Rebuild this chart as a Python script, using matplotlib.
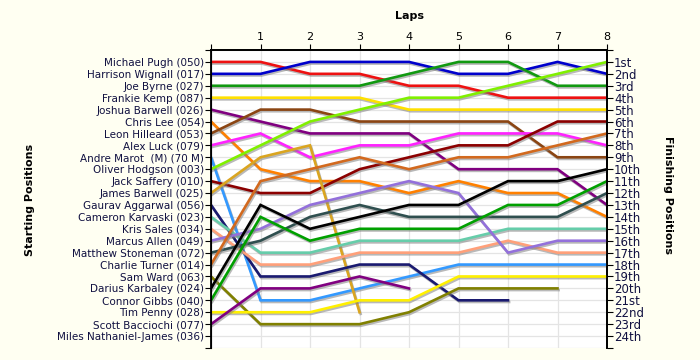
import matplotlib
matplotlib.use("Agg")
import matplotlib.pyplot as plt
import matplotlib.patheffects as pe
import numpy as np

laps = [0, 1, 2, 3, 4, 5, 6, 7, 8]
drivers = [
    "Michael Pugh (050)", "Harrison Wignall (017)", "Joe Byrne (027)", "Frankie Kemp (087)",
    "Joshua Barwell (026)", "Chris Lee (054)", "Leon Hilleard (053)", "Alex Luck (079)",
    "Andre Marot  (M) (70 M)", "Oliver Hodgson (003)", "Jack Saffery (010)", "James Barwell (025)",
    "Gaurav Aggarwal (056)", "Cameron Karvaski (023)", "Kris Sales (034)", "Marcus Allen (049)",
    "Matthew Stoneman (072)", "Charlie Turner (014)", "Sam Ward (063)", "Darius Karbaley (024)",
    "Connor Gibbs (040)", "Tim Penny (028)", "Scott Bacciochi (077)", "Miles Nathaniel-James (036)",
]
finish_labels = ["1st", "2nd", "3rd", "4th", "5th", "6th", "7th", "8th", "9th", "10th", "11th",
                 "12th", "13th", "14th", "15th", "16th", "17th", "18th", "19th", "20th", "21st",
                 "22nd", "23rd", "24th"]

michael_pugh = [1, 1, 2, 2, 3, 3, 4, 4, 4]
harrison_wignall = [2, 2, 1, 1, 1, 2, 2, 1, 2]
joe_byrne = [3, 3, 3, 3, 2, 1, 1, 3, 3]
frankie_kemp = [4, 4, 4, 4, 5, 5, 5, 5, 5]
joshua_barwell = [5, 6, 7, 7, 7, 10, 10, 10, 13]
chris_lee = [6, 10, 11, 11, 12, 11, 12, 12, 14]
leon_hilleard = [7, 5, 5, 6, 6, 6, 6, 9, 9]
alex_luck = [8, 7, 9, 8, 8, 7, 7, 7, 8]
andre_marot = [9, 21, 21, 20, 19, 18, 18, 18, 18]
oliver_hodgson = [10, 8, 6, 5, 4, 4, 3, 2, 1]
jack_saffery = [11, 12, 12, 10, 9, 8, 8, 6, 6]
james_barwell = [12, 9, 8, 22]
gaurav_aggarwal = [13, 19, 19, 18, 18, 21, 21]
cameron_karvaski = [14, 17, 17, 16, 16, 16, 15, 15, 15]
kris_sales = [15, 18, 18, 17, 17, 17, 16, 17, 17]
marcus_allen = [16, 15, 13, 12, 11, 12, 17, 16, 16]
matthew_stoneman = [17, 16, 14, 13, 14, 14, 14, 14, 12]
charlie_turner = [18, 11, 10, 9, 10, 9, 9, 8, 7]
sam_ward = [19, 23, 23, 23, 22, 20, 20, 20]
darius_karbaley = [20, 13, 15, 14, 13, 13, 11, 11, 10]
connor_gibbs = [21, 14, 16, 15, 15, 15, 13, 13, 11]
tim_penny = [22, 22, 22, 21, 21, 19, 19, 19, 19]
scott_bacciochi = [23, 20, 20, 19, 20]

series = [
    (michael_pugh, "#EE1111"), (harrison_wignall, "#0000CC"), (joe_byrne, "#119911"),
    (frankie_kemp, "#FFE000"), (joshua_barwell, "#800080"), (chris_lee, "#FF8000"),
    (leon_hilleard, "#8B4513"), (alex_luck, "#FF22FF"), (andre_marot, "#3399FF"),
    (oliver_hodgson, "#80F000"), (jack_saffery, "#8B0000"), (james_barwell, "#DAA520"),
    (gaurav_aggarwal, "#1A1A70"), (cameron_karvaski, "#66CDAA"), (kris_sales, "#FFA07A"),
    (marcus_allen, "#9370DB"), (matthew_stoneman, "#2F4F4F"), (charlie_turner, "#D2691E"),
    (sam_ward, "#808000"), (darius_karbaley, "#000000"), (connor_gibbs, "#00A000"),
    (tim_penny, "#FFF000"), (scott_bacciochi, "#800080"),
]

bg = "#FFFFF2"
fig = plt.figure(figsize=(7, 3.6), dpi=100, facecolor=bg)
ax = fig.add_axes([211 / 700, 1 - 348 / 360, (607 - 211) / 700, (348 - 50) / 360])
ax.set_facecolor("white")

for vals, col in series:
    ax.plot(laps[:len(vals)], vals, color=col, lw=1.9, solid_joinstyle="miter",
            path_effects=[pe.SimpleLineShadow(offset=(0.8, -1.2), shadow_color="#808080", alpha=0.55),
                          pe.Normal()], zorder=3)

ax.set_xlim(0, 8)
ax.set_ylim(25, 0)
ax.set_xticks(laps)
ax.set_xticklabels([""] + [str(l) for l in laps[1:]], fontsize=8)
ax.xaxis.tick_top()
ax.xaxis.set_label_position("top")
ax.set_xlabel("Laps", fontsize=8, fontweight="bold", labelpad=9)
yt = list(range(0, 26))
ax.set_yticks(yt)
ax.set_yticklabels([""] + drivers + [""], fontsize=7.5, color="#101040")
ax.tick_params(axis="y", length=4, pad=1, direction="out")
ax.tick_params(axis="x", length=4, pad=2, direction="out")
ax.grid(True, color="#E4E4E4", lw=0.9, zorder=0)
ax.set_axisbelow(True)
ax.spines["bottom"].set_visible(False)
for s in ["left", "top", "right"]:
    ax.spines[s].set_linewidth(1.3)

ax2 = ax.twinx()
ax2.set_ylim(25, 0)
ax2.set_yticks(yt)
ax2.set_yticklabels([""] + finish_labels + [""], fontsize=8.5, color="#101040")
ax2.tick_params(axis="y", length=4, pad=1, direction="out")
ax2.spines["bottom"].set_visible(False)
ax2.spines["right"].set_linewidth(1.3)
ax2.spines["top"].set_linewidth(1.3)

fig.text(30 / 700, 1 - 200 / 360, "Starting Positions", rotation=90, fontsize=8,
         fontweight="bold", ha="center", va="center")
fig.text(668 / 700, 1 - 195 / 360, "Finishing Positions", rotation=270, fontsize=8,
         fontweight="bold", ha="center", va="center")

fig.savefig("out.png", dpi=100, facecolor=bg)
